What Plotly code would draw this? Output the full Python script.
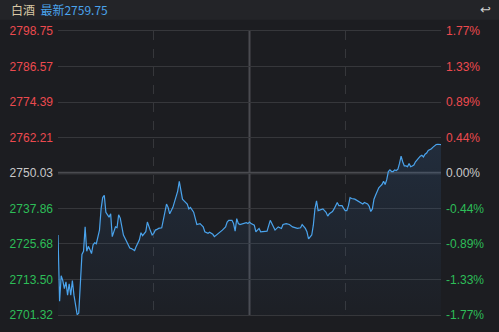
import plotly.graph_objects as go

# ---------------- data ----------------
title_name = "白酒"
latest_label = "最新"
latest_value = 2759.75
pre_close = 2750.03

minutes = [0, 1, 2, 3, 4, 5, 6, 7, 8, 9, 10, 11, 12, 13, 14, 15, 16, 17, 18, 19,
           20, 21, 22, 23, 24, 25, 26, 27, 28, 29, 30, 32, 33, 34, 36, 37, 38, 39, 41, 42,
           43, 45, 46, 48, 49, 51, 52, 53, 55, 56, 58, 59, 60, 61, 62, 63, 65, 66, 67, 68,
           69, 70, 72, 73, 74, 75, 76, 77, 78, 79, 81, 82, 83, 85, 86, 87, 89, 91, 92, 94,
           95, 97, 98, 100, 101, 103, 105, 106, 107, 109, 110, 111, 112, 113, 114, 116, 118, 119, 120,
           121, 123, 124, 126, 127, 129, 131, 133, 135, 136, 138, 140, 141, 143, 145, 147, 150,
           152, 153, 155, 156, 157, 159, 160, 161, 162, 163, 165, 166, 168, 169, 170, 172, 173,
           175, 176, 178, 179, 180, 181, 182, 183, 184, 186, 188, 189, 190, 191, 192, 194, 195,
           196, 197, 198, 199, 200, 201, 202, 203, 204, 205, 206, 207, 208, 209, 210, 211, 212,
           213, 214, 215, 216, 217, 218, 219, 220, 221, 222, 223, 224, 225, 227, 228, 229, 230,
           231, 232, 234, 235, 236, 237, 238, 240]

prices = [2728.77, 2706.01, 2714.81, 2713.14, 2710.36, 2712.70, 2708.12, 2712.03, 2708.12, 2713.14,
          2708.12, 2704.77, 2701.42, 2701.99, 2712.03, 2722.08, 2723.18, 2731.55, 2723.18, 2724.86,
          2723.75, 2722.41, 2725.43, 2726.10, 2725.76, 2728.77, 2730.45, 2737.71, 2741.60, 2742.40,
          2736.58, 2734.90, 2736.04, 2728.21, 2731.55, 2731.30, 2735.70, 2734.57, 2728.77, 2727.67,
          2726.33, 2724.32, 2724.10, 2723.42, 2724.86, 2727.10, 2729.55, 2728.54, 2729.88, 2733.23,
          2730.11, 2728.77, 2729.34, 2730.45, 2730.68, 2731.02, 2731.22, 2734.37, 2737.14, 2739.39,
          2738.25, 2736.04, 2738.25, 2739.92, 2742.17, 2743.84, 2747.19, 2743.84, 2741.06, 2740.49,
          2739.39, 2737.71, 2738.25, 2736.58, 2734.37, 2732.36, 2732.69, 2731.55, 2729.88, 2729.34,
          2729.68, 2729.01, 2728.21, 2729.01, 2729.34, 2730.45, 2731.55, 2733.23, 2733.80, 2733.80,
          2732.69, 2730.11, 2734.37, 2732.69, 2732.36, 2732.69, 2733.03, 2732.69, 2733.23,
          2732.69, 2732.12, 2729.88, 2731.02, 2729.88, 2730.11, 2730.11, 2733.80, 2731.55, 2730.45,
          2731.55, 2731.02, 2732.36, 2732.69, 2732.36, 2731.55, 2731.02,
          2731.22, 2732.36, 2731.02, 2729.88, 2727.43, 2728.77, 2732.12, 2737.71, 2740.49, 2737.14,
          2737.40, 2737.71, 2736.58, 2735.24, 2736.04, 2736.81, 2737.71,
          2739.92, 2738.82, 2738.82, 2737.92, 2737.14, 2737.14, 2738.82, 2741.60, 2741.27, 2741.06,
          2740.49, 2739.92, 2739.92, 2739.39, 2739.92, 2739.39, 2738.59,
          2736.81, 2737.71, 2741.06, 2742.40, 2743.84, 2744.95, 2745.52, 2746.08, 2747.19, 2746.08,
          2747.76, 2750.54, 2751.11, 2750.54, 2750.54, 2751.11, 2750.87,
          2751.31, 2753.32, 2755.79, 2753.89, 2752.45, 2752.45, 2752.21, 2753.32, 2752.21, 2752.45,
          2752.78, 2753.89, 2754.66, 2755.79, 2756.13, 2755.56, 2756.46,
          2756.90, 2757.80, 2758.34, 2758.91, 2759.48, 2759.81, 2759.90, 2759.75]

price_ticks = [2798.75, 2786.57, 2774.39, 2762.21, 2750.03, 2737.86, 2725.68, 2713.50, 2701.32]
pct_labels = ["1.77%", "1.33%", "0.89%", "0.44%", "0.00%", "-0.44%", "-0.89%", "-1.33%", "-1.77%"]
time_ticks = [0, 60, 120, 180, 240]

# ---------------- style ----------------
BG = "#1c1d21"
HEADER_BG = "#232428"
GRID = "#36373b"
MID = "#4a4b50"
RED = "#ec4a4f"
GREEN = "#2dbd58"
GRAY = "#c9c9c9"
LINE = "#4aa3ec"
NUMFONT = "Liberation Sans, Arial, sans-serif"
CJKFONT = "Noto Sans CJK SC, sans-serif"


def color_for(v):
    if v > pre_close + 1e-9:
        return RED
    if v < pre_close - 1e-9:
        return GREEN
    return GRAY


left_text = [f"<span style='color:{color_for(v)}'>{v:.2f}</span>" for v in price_ticks]
right_text = [f"<span style='color:{color_for(v)}'>{t}</span>" for v, t in zip(price_ticks, pct_labels)]

ymin, ymax = min(price_ticks), max(price_ticks)
pct_vals = [(p - pre_close) / pre_close * 100 for p in prices]
pct_tickvals = [(v - pre_close) / pre_close * 100 for v in price_ticks]
pmin = (ymin - pre_close) / pre_close * 100
pmax = (ymax - pre_close) / pre_close * 100

fig = go.Figure()
fig.add_trace(go.Scatter(
    x=minutes, y=prices, mode="lines",
    line=dict(color=LINE, width=1.2),
    fill="tozeroy",
    fillgradient=dict(type="vertical", start=ymin, stop=max(prices),
                      colorscale=[[0, "rgba(60,120,190,0.02)"], [1, "rgba(60,120,190,0.17)"]]),
    hoverinfo="skip", showlegend=False,
))
fig.add_trace(go.Scatter(
    x=minutes, y=pct_vals, mode="lines", yaxis="y2",
    line=dict(color="rgba(0,0,0,0)", width=0),
    hoverinfo="skip", showlegend=False,
))

fig.update_layout(
    width=499, height=332,
    margin=dict(l=58, r=58, t=31, b=10),
    paper_bgcolor=BG, plot_bgcolor=BG,
    showlegend=False,
    xaxis=dict(range=[0, 240], tickvals=[60, 180], showticklabels=False,
               showgrid=True, gridcolor=GRID, griddash="dash", gridwidth=1,
               showline=True, linecolor=GRID, linewidth=1, mirror=True,
               zeroline=False, fixedrange=True),
    yaxis=dict(range=[ymin, ymax], tickvals=price_ticks, ticktext=left_text,
               showgrid=True, gridcolor=GRID, gridwidth=1, zeroline=False,
               tickfont=dict(family=NUMFONT, size=12, color=GRAY),
               ticklabelstandoff=4, showline=False),
    yaxis2=dict(range=[pmin, pmax], tickvals=pct_tickvals, ticktext=right_text,
                overlaying="y", side="right", showgrid=False, zeroline=False,
                tickfont=dict(family=NUMFONT, size=12, color=GRAY),
                ticklabelstandoff=4, showline=False),
    shapes=[
        dict(type="rect", xref="paper", yref="paper", x0=-0.2, x1=1.2, y0=1.04, y1=1.12,
             fillcolor=HEADER_BG, line=dict(width=0), layer="below"),
        dict(type="line", xref="x", yref="paper", x0=time_ticks[2], x1=time_ticks[2], y0=0, y1=1,
             line=dict(color=MID, width=2), layer="below"),
        dict(type="line", xref="paper", yref="y", x0=0, x1=1, y0=pre_close, y1=pre_close,
             line=dict(color=MID, width=2.5), layer="below"),
    ],
    annotations=[
        dict(xref="paper", yref="paper", x=-0.127, y=1.074, xanchor="left", yanchor="middle",
             text=f"<span style='color:#d8c7a4'>{title_name}</span>  "
                  f"<span style='color:#4aa3ec'>{latest_label}{latest_value:.2f}</span>",
             showarrow=False, font=dict(family=CJKFONT, size=12)),
        dict(xref="paper", yref="paper", x=1.135, y=1.074, xanchor="right", yanchor="middle",
             text="↩", showarrow=False, font=dict(family="DejaVu Sans", size=13, color="#d0d0d0")),
    ],
)

fig.write_html("out.html")
